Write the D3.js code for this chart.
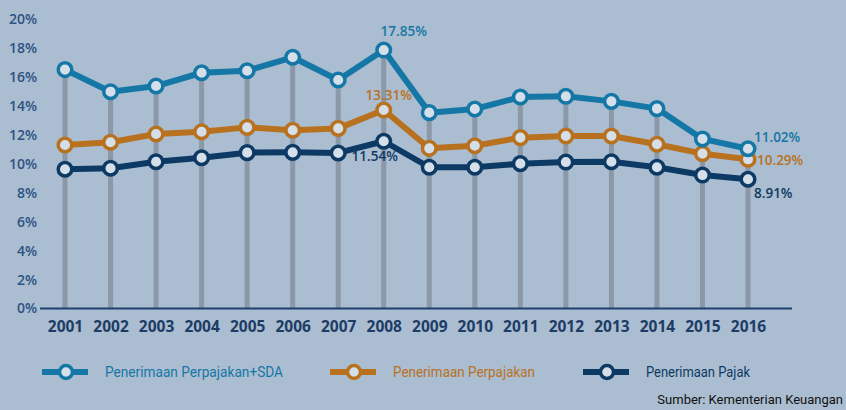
<!DOCTYPE html>
<html><head><meta charset="utf-8">
<script src="https://cdn.jsdelivr.net/npm/d3@7"></script>
<style>
html,body{margin:0;padding:0;background:#abbdd0;}
svg{display:block;}
</style></head>
<body><svg id="c" width="846" height="410"></svg>
<script>
const years = [2001,2002,2003,2004,2005,2006,2007,2008,2009,2010,2011,2012,2013,2014,2015,2016];
const sdaValues = [16.5,14.97,15.36,16.28,16.42,17.35,15.78,17.85,13.52,13.77,14.6,14.65,14.3,13.8,11.7,11.02];
const perpajakanValues = [11.28,11.47,12.04,12.2,12.5,12.3,12.43,13.7,11.05,11.23,11.79,11.9,11.9,11.33,10.68,10.29];
const pajakValues = [9.6,9.67,10.12,10.4,10.75,10.77,10.73,11.54,9.74,9.74,9.99,10.1,10.12,9.74,9.2,8.91];
const yTicks = [0,2,4,6,8,10,12,14,16,18,20];
const seriesNames = ["Penerimaan Perpajakan+SDA","Penerimaan Perpajakan","Penerimaan Pajak"];
const annotations = [
  {series:0, year:2008, text:"17.85%", dx:20, dy:-14, anchor:"middle"},
  {series:1, year:2008, text:"13.31%", dx:5, dy:-10, anchor:"middle"},
  {series:2, year:2008, text:"11.54%", dx:-9, dy:20, anchor:"middle"},
  {series:0, year:2016, text:"11.02%", dx:6, dy:-7, anchor:"start"},
  {series:1, year:2016, text:"10.29%", dx:9, dy:6, anchor:"start"},
  {series:2, year:2016, text:"8.91%", dx:6, dy:19, anchor:"start"}
];
const sourceText = "Sumber: Kementerian Keuangan";

const colors = ["#1577a6","#b8721f","#0d3a64"];
const allSeries = [sdaValues, perpajakanValues, pajakValues];

const svg = d3.select("#c");
const x = d3.scalePoint().domain(years).range([65,748]);
const y = d3.scaleLinear().domain([0,20]).range([308,19]);

// drop bars
svg.append("g").selectAll("line").data(years).join("line")
  .attr("x1",d=>x(d)).attr("x2",d=>x(d))
  .attr("y1",y(0)).attr("y2",(d,i)=>y(d3.max(allSeries,s=>s[i])))
  .attr("stroke","#8a98a8").attr("stroke-width",5);

// y axis labels
const yAxis = d3.axisLeft(y).tickValues(yTicks).tickFormat(d=>d+"%").tickSize(0).tickPadding(0);
const yg = svg.append("g").attr("transform","translate(37,0)").call(yAxis);
yg.select(".domain").remove();
yg.selectAll("text").attr("fill","#2b5384").attr("font-family","'Open Sans',sans-serif")
  .attr("font-weight",600).attr("font-size",14).attr("dy","0.35em");

// x axis
const xAxis = d3.axisBottom(x).tickSize(0).tickPadding(13);
const xg = svg.append("g").attr("transform","translate(0,308)").call(xAxis);
xg.select(".domain").remove();
xg.selectAll("text").attr("fill","#1d3c66").attr("font-family","'Open Sans',sans-serif")
  .attr("font-weight",700).attr("font-size",15.5);
svg.append("line").attr("x1",40).attr("x2",792).attr("y1",308.5).attr("y2",308.5)
  .attr("stroke","#1d4170").attr("stroke-width",2);

// lines
const line = d3.line().x((d,i)=>x(years[i])).y(d=>y(d));
[2,1,0].forEach(k=>{
  svg.append("path").datum(allSeries[k]).attr("d",line)
    .attr("fill","none").attr("stroke",colors[k]).attr("stroke-width",6).attr("stroke-linejoin","round");
});
[2,1,0].forEach(k=>{
  svg.append("g").selectAll("circle").data(allSeries[k]).join("circle")
    .attr("cx",(d,i)=>x(years[i])).attr("cy",d=>y(d)).attr("r",6.8)
    .attr("fill","#d4dfe9").attr("stroke",colors[k]).attr("stroke-width",3.5);
});

// annotations
svg.append("g").selectAll("text").data(annotations).join("text")
  .attr("x",d=>x(d.year)+d.dx)
  .attr("y",d=>y(allSeries[d.series][years.indexOf(d.year)])+d.dy)
  .attr("text-anchor",d=>d.anchor)
  .attr("fill",d=>colors[d.series])
  .attr("font-family","'Open Sans',sans-serif").attr("font-weight",600).attr("font-size",13.5)
  .text(d=>d.text);

// legend
const legX = [42,330,583];
const legW = [178,142,104];
const leg = svg.append("g").selectAll("g").data(seriesNames).join("g")
  .attr("transform",(d,i)=>`translate(${legX[i]},372)`);
leg.append("line").attr("x1",0).attr("x2",46).attr("y1",0).attr("y2",0)
  .attr("stroke",(d,i)=>colors[i]).attr("stroke-width",6);
leg.append("circle").attr("cx",24).attr("cy",0).attr("r",6.5)
  .attr("fill","#d4dfe9").attr("stroke",(d,i)=>colors[i]).attr("stroke-width",3.5);
leg.append("text").attr("x",63).attr("y",0).attr("dy","0.35em")
  .attr("fill",(d,i)=>colors[i])
  .attr("font-family","Roboto,sans-serif")
  .attr("font-size",15)
  .attr("textLength",(d,i)=>legW[i]).attr("lengthAdjust","spacingAndGlyphs")
  .text(d=>d);

svg.append("text").attr("x",843).attr("y",404)
  .attr("text-anchor","end")
  .attr("fill","#111")
  .attr("font-family","Roboto,sans-serif")
  .attr("font-size",13)
  .text(sourceText);
</script>
</body></html>
